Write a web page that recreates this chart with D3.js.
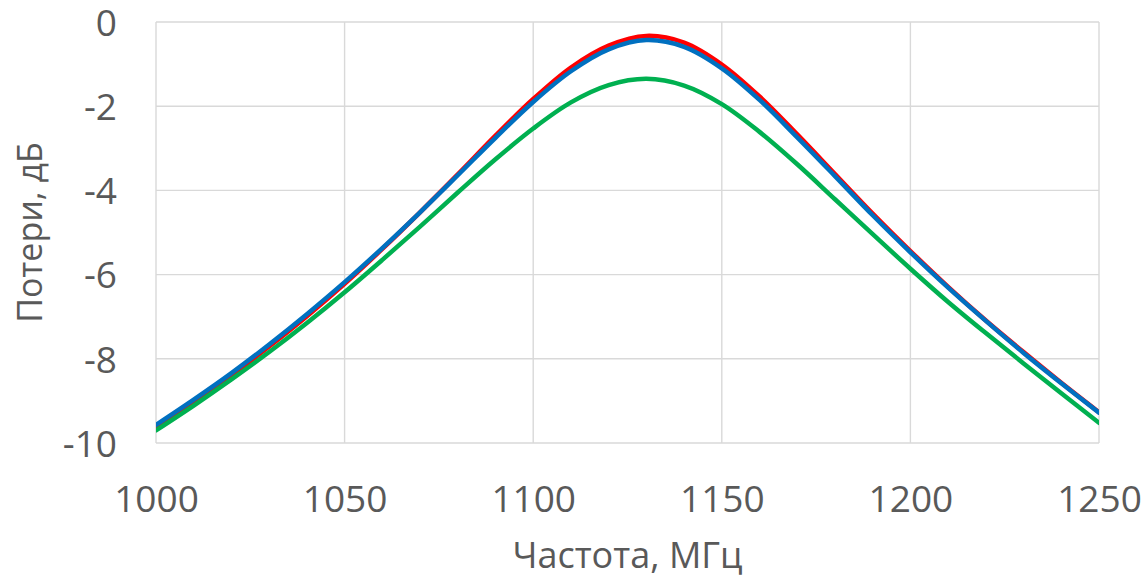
<!DOCTYPE html>
<html>
<head>
<meta charset="utf-8">
<script src="https://cdn.jsdelivr.net/npm/d3@7"></script>
<style>
  html, body { margin: 0; padding: 0; background: #ffffff; }
  svg { display: block; }
  text { font-family: "Open Sans", "Noto Sans", sans-serif; fill: #595959; }
</style>
</head>
<body>
<svg id="chart" width="1147" height="579"></svg>
<script>
// Frequency grid, MHz
const freq = [1000, 1010, 1020, 1030, 1040, 1050, 1060, 1070, 1080, 1090, 1100, 1110, 1120,
              1130, 1140, 1150, 1160, 1170, 1180, 1190, 1200, 1210, 1220, 1230, 1240, 1250];

// Insertion loss, dB
const lossRed   = [-9.60, -9.01, -8.39, -7.71, -6.99, -6.22, -5.39, -4.52, -3.62, -2.70, -1.83, -1.08, -0.56,
                   -0.33, -0.49, -1.01, -1.77, -2.67, -3.61, -4.55, -5.44, -6.29, -7.09, -7.84, -8.57, -9.27];
const lossBlue  = [-9.57, -8.97, -8.34, -7.66, -6.94, -6.18, -5.37, -4.52, -3.64, -2.75, -1.90, -1.17, -0.65,
                   -0.43, -0.59, -1.10, -1.85, -2.74, -3.66, -4.59, -5.47, -6.31, -7.10, -7.86, -8.58, -9.28];
const lossGreen = [-9.70, -9.11, -8.49, -7.84, -7.15, -6.42, -5.65, -4.86, -4.05, -3.26, -2.53, -1.91, -1.50,
                   -1.35, -1.51, -1.95, -2.61, -3.38, -4.21, -5.04, -5.86, -6.65, -7.39, -8.11, -8.82, -9.52];

const xTicks = [1000, 1050, 1100, 1150, 1200, 1250];
const yTicks = [0, -2, -4, -6, -8, -10];

const xTitle = "Частота, МГц";
const yTitle = "Потери, дБ";

const series = [
  { values: lossRed,   color: "#FF0000" },
  { values: lossBlue,  color: "#0070C0" },
  { values: lossGreen, color: "#00B050" }
];

const svg = d3.select("#chart");
const plot = { left: 156, right: 1099, top: 22, bottom: 443 };

const x = d3.scaleLinear().domain([1000, 1250]).range([plot.left, plot.right]);
const y = d3.scaleLinear().domain([-10, 0]).range([plot.bottom, plot.top]);

const gridColor = "#d9d9d9";
// Plain hyphen-minus for negative tick labels
const fmt = d => String(d);

// Gridlines
svg.append("g")
  .selectAll("line")
  .data(yTicks)
  .join("line")
  .attr("x1", plot.left).attr("x2", plot.right)
  .attr("y1", d => y(d)).attr("y2", d => y(d))
  .attr("stroke", gridColor).attr("stroke-width", 1.4);

svg.append("g")
  .selectAll("line")
  .data(xTicks)
  .join("line")
  .attr("x1", d => x(d)).attr("x2", d => x(d))
  .attr("y1", plot.top).attr("y2", plot.bottom)
  .attr("stroke", gridColor).attr("stroke-width", 1.4);

// Tick labels via d3 axes
const yAxis = svg.append("g")
  .attr("transform", `translate(${plot.left},0)`)
  .call(d3.axisLeft(y).tickValues(yTicks).tickSize(0).tickPadding(39).tickFormat(fmt));
yAxis.select(".domain").remove();
yAxis.selectAll("text")
  .attr("font-size", 37)
  .attr("dy", "0.36em")
  .style("font-family", "\"Open Sans\", sans-serif")
  .attr("fill", "#595959");

const xAxis = svg.append("g")
  .attr("transform", `translate(0,${plot.bottom})`)
  .call(d3.axisBottom(x).tickValues(xTicks).tickSize(0).tickPadding(0).tickFormat(fmt));
xAxis.select(".domain").remove();
xAxis.selectAll("text")
  .attr("font-size", 37)
  .attr("y", 69)
  .attr("dy", 0)
  .style("font-family", "\"Open Sans\", sans-serif")
  .attr("fill", "#595959");

// Curves
const line = d3.line()
  .x((d, i) => x(freq[i]))
  .y(d => y(d))
  .curve(d3.curveCatmullRom.alpha(0.5));

svg.append("clipPath").attr("id", "plotClip")
  .append("rect")
  .attr("x", plot.left).attr("y", plot.top - 10)
  .attr("width", plot.right - plot.left).attr("height", plot.bottom - plot.top + 20);

svg.append("g")
  .attr("clip-path", "url(#plotClip)")
  .selectAll("path")
  .data(series)
  .join("path")
  .attr("d", d => line(d.values))
  .attr("fill", "none")
  .attr("stroke", d => d.color)
  .attr("stroke-width", 4.5)
  .attr("stroke-linejoin", "round")
  .attr("stroke-linecap", "round");

// Axis titles
svg.append("text")
  .attr("x", (plot.left + plot.right) / 2)
  .attr("y", 568)
  .attr("text-anchor", "middle")
  .attr("font-size", 36)
  .text(xTitle);

svg.append("text")
  .attr("transform", `translate(42,${(plot.top + plot.bottom) / 2}) rotate(-90)`)
  .attr("text-anchor", "middle")
  .attr("font-size", 34)
  .text(yTitle);
</script>
</body>
</html>
